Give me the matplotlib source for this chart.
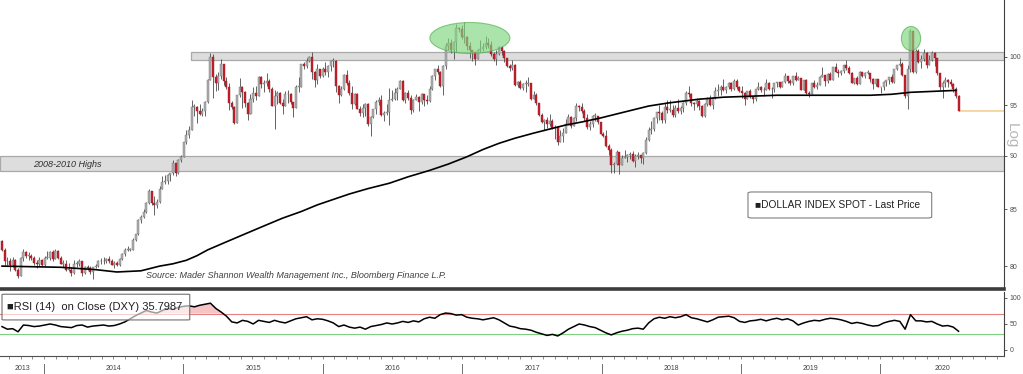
import numpy as np
import pandas as pd
import matplotlib
matplotlib.use("Agg")
import matplotlib.pyplot as plt
import matplotlib.transforms as mtransforms
from matplotlib.patches import Ellipse, FancyBboxPatch, Rectangle
from matplotlib.ticker import NullLocator, NullFormatter

plt.rcParams['font.family'] = ['Liberation Sans', 'DejaVu Sans']

# weekly DXY candles, first week ends 2013-09-13
FIRST_WEEK = "2013-09-13"
first_open = 82.2

close_2013 = [81.4, 80.4, 80.4, 80.1, 80.5, 79.7, 79.2, 80.7, 81.2, 80.9, 80.9, 80.7, 80.3, 80.2, 80.5, 80.1]
high_2013 = [82.3, 81.6, 80.8, 80.7, 80.8, 80.6, 79.8, 80.8, 81.5, 81.3, 81.2, 81.0, 80.9, 80.5, 80.8, 80.6]
low_2013 = [81.3, 80.1, 80.1, 79.6, 79.9, 79.6, 79.0, 79.2, 80.4, 80.7, 80.5, 80.5, 80.1, 79.8, 80.0, 80.0]

close_2014 = [80.7, 80.7, 81.2, 80.6, 81.3, 80.7, 80.2, 80.2, 79.7, 79.7, 79.4, 80.2, 80.2, 80.4, 79.4, 79.9, 79.8, 79.5,
              79.9, 80.0, 80.4, 80.4, 80.4, 80.6, 80.4, 80.1, 80.3, 80.1, 80.6, 81.0, 81.4, 81.4, 81.4, 82.3, 82.8, 84.0,
              84.3, 84.8, 85.6, 86.7, 85.6, 85.4, 85.7, 86.9, 87.5, 87.6, 88.2, 88.4, 89.3, 88.4, 89.6, 89.9]
high_2014 = [80.9, 81.3, 81.3, 81.4, 81.5, 81.4, 80.9, 80.5, 80.5, 80.3, 79.9, 80.5, 80.4, 80.6, 80.4, 80.0, 80.1, 80.0,
             79.9, 80.2, 80.5, 80.7, 80.8, 80.7, 80.9, 80.6, 80.4, 80.4, 80.7, 81.1, 81.6, 81.7, 81.6, 82.4, 82.8, 84.1,
             84.5, 85.0, 85.7, 86.9, 86.4, 86.2, 85.9, 87.1, 88.1, 88.2, 88.3, 88.4, 89.6, 89.3, 89.7, 90.1]
low_2014 = [80.0, 80.6, 80.5, 80.4, 80.6, 80.6, 80.2, 79.9, 79.6, 79.6, 79.2, 79.3, 79.9, 80.0, 79.2, 79.3, 79.7, 79.3,
            78.9, 79.8, 79.9, 80.2, 80.2, 80.3, 80.3, 80.1, 79.8, 80.0, 80.0, 80.5, 80.9, 81.3, 81.3, 81.4, 82.2, 82.7,
            83.8, 84.2, 84.7, 85.5, 85.4, 84.5, 85.1, 85.6, 86.9, 87.3, 87.3, 87.6, 88.2, 88.1, 88.3, 89.4]

close_2015 = [91.3, 92.0, 92.5, 94.8, 94.8, 94.4, 94.1, 94.4, 95.3, 97.6, 100.0, 97.9, 97.3, 98.0, 99.3, 97.5, 96.9, 95.2,
              94.8, 93.2, 96.0, 96.9, 96.3, 95.2, 94.1, 95.6, 96.2, 95.9, 97.9, 97.2, 97.3, 97.5, 96.6, 94.9, 95.9, 96.2,
              95.2, 94.9, 96.1, 96.1, 95.3, 94.7, 96.9, 96.9, 99.3, 99.0, 99.6, 100.0, 98.4, 97.6, 98.7, 98.0]
high_2015 = [91.3, 92.5, 92.9, 95.5, 95.1, 94.9, 95.1, 94.7, 95.4, 97.7, 100.4, 100.3, 98.2, 98.4, 99.8, 99.3, 97.9, 97.3,
             95.4, 94.9, 96.0, 97.8, 97.0, 96.4, 95.3, 96.1, 96.8, 97.0, 98.0, 98.0, 97.6, 98.3, 97.7, 96.8, 96.5, 96.4,
             96.3, 95.6, 96.4, 96.5, 96.2, 95.1, 97.1, 97.9, 99.3, 99.5, 99.9, 100.1, 100.5, 98.5, 99.3, 98.7]
low_2015 = [89.9, 91.1, 91.7, 92.6, 93.9, 93.2, 94.0, 93.9, 93.9, 95.2, 97.6, 95.7, 96.4, 96.5, 97.7, 97.1, 96.6, 94.5,
            94.6, 93.1, 93.2, 95.8, 94.7, 94.8, 93.5, 94.1, 95.3, 95.5, 95.9, 96.7, 96.3, 97.0, 96.3, 94.9, 92.6, 95.1,
            95.1, 94.1, 95.0, 95.2, 95.1, 93.8, 94.7, 96.3, 96.9, 98.7, 98.8, 99.5, 97.7, 96.9, 97.2, 97.8]

close_2016 = [98.7, 98.4, 99.0, 99.6, 99.6, 97.0, 96.0, 96.6, 98.1, 97.3, 96.2, 95.1, 96.1, 94.6, 94.2, 94.7, 95.1, 93.1,
              93.8, 94.6, 95.3, 95.5, 94.0, 94.2, 94.3, 95.5, 95.6, 96.2, 96.6, 97.5, 95.5, 96.2, 95.7, 94.5, 95.5, 95.8,
              95.3, 96.1, 95.5, 95.4, 96.6, 98.0, 98.7, 98.4, 97.0, 99.0, 101.2, 101.5, 100.8, 101.6, 103.1, 103.0, 102.2]
high_2016 = [98.9, 99.5, 99.2, 99.6, 99.9, 99.7, 97.1, 97.0, 98.2, 98.6, 97.6, 97.0, 96.2, 96.2, 94.9, 95.1, 95.2, 95.2,
             93.9, 94.6, 95.5, 95.8, 96.0, 94.4, 95.1, 96.7, 96.5, 96.7, 96.8, 97.6, 97.6, 96.3, 96.5, 96.0, 95.6, 96.1,
             95.9, 96.2, 96.1, 96.0, 97.0, 98.1, 98.7, 99.1, 98.5, 99.1, 101.5, 102.0, 101.9, 101.7, 103.6, 103.3, 103.5]
low_2016 = [97.9, 98.1, 97.9, 98.5, 98.9, 96.3, 95.2, 95.9, 96.5, 97.1, 96.0, 94.6, 95.0, 94.6, 93.9, 93.8, 93.9, 92.9,
            91.9, 93.7, 94.1, 95.0, 93.9, 93.4, 94.0, 93.0, 95.4, 95.5, 95.5, 96.6, 95.4, 95.2, 95.5, 94.1, 94.3, 95.5,
            94.4, 95.1, 94.9, 95.1, 95.3, 96.5, 97.6, 98.2, 96.9, 96.0, 98.7, 100.8, 100.4, 99.8, 100.5, 102.7, 101.9]

close_2017 = [102.2, 101.2, 100.7, 100.5, 99.8, 100.8, 100.9, 101.1, 101.5, 101.3, 100.3, 99.8, 100.3, 101.1, 100.6, 99.9,
              99.0, 98.8, 99.2, 97.1, 97.4, 96.7, 97.2, 97.2, 97.3, 95.6, 96.0, 95.2, 94.0, 93.3, 93.5, 93.1, 93.4, 92.7,
              92.8, 91.3, 91.9, 92.2, 93.1, 93.8, 92.9, 93.7, 94.9, 94.8, 94.4, 93.7, 92.8, 93.1, 93.9, 93.9, 93.3, 92.1]
high_2017 = [103.8, 102.3, 101.6, 100.8, 100.5, 100.9, 101.8, 101.5, 102.3, 102.0, 101.7, 100.5, 100.8, 101.2, 101.2,
             100.7, 99.9, 99.3, 99.7, 99.3, 97.5, 97.6, 97.3, 97.6, 97.9, 97.3, 96.4, 96.2, 95.2, 94.2, 93.6, 93.8, 94.1,
             93.6, 93.0, 92.9, 92.5, 92.7, 93.6, 94.1, 93.9, 93.8, 95.2, 95.0, 95.2, 94.6, 94.1, 93.4, 94.0, 94.2, 93.9, 93.3]
low_2017 = [101.5, 100.7, 99.9, 99.6, 99.2, 99.8, 100.5, 100.6, 100.9, 101.0, 100.1, 99.6, 99.1, 100.2, 100.2, 99.5,
            98.9, 98.5, 98.6, 97.0, 96.8, 96.6, 96.5, 96.3, 97.0, 95.5, 95.6, 95.0, 93.9, 93.2, 92.5, 92.7, 92.9, 92.6,
            91.6, 91.0, 91.3, 91.3, 92.4, 93.0, 92.7, 92.9, 93.4, 94.4, 94.2, 93.4, 92.6, 92.5, 92.8, 93.4, 93.1, 92.1]

close_2018 = [91.9, 90.9, 90.6, 89.1, 89.2, 90.4, 89.1, 89.8, 89.9, 90.1, 90.2, 89.5, 90.0, 90.1, 89.8, 90.3, 91.5, 92.5,
              92.6, 93.7, 94.3, 94.2, 93.5, 94.8, 94.5, 94.5, 94.0, 94.7, 94.4, 94.7, 95.2, 96.2, 96.1, 95.2, 95.1, 95.4,
              94.9, 93.9, 95.1, 95.6, 95.0, 95.7, 96.4, 96.5, 96.9, 96.5, 96.9, 97.3, 96.6, 97.5, 96.9, 96.4]
high_2018 = [92.3, 92.5, 91.1, 90.7, 89.4, 90.6, 90.4, 90.1, 90.6, 90.2, 90.4, 90.5, 90.2, 90.4, 90.1, 90.4, 91.8, 92.8,
             93.4, 93.8, 94.3, 95.0, 94.4, 95.2, 95.5, 95.5, 95.0, 95.0, 95.6, 94.9, 95.3, 96.4, 97.0, 96.2, 95.3, 95.7,
             95.5, 95.0, 95.2, 95.8, 96.0, 95.8, 96.8, 97.2, 97.1, 97.7, 97.0, 97.4, 97.4, 97.7, 97.7, 97.0]
low_2018 = [91.8, 90.8, 90.1, 88.4, 88.4, 89.1, 88.3, 89.1, 89.8, 89.4, 89.7, 89.4, 88.9, 89.7, 89.3, 89.2, 90.2, 91.4,
            92.1, 92.4, 93.2, 93.5, 93.2, 93.2, 94.2, 94.3, 93.8, 93.8, 94.2, 94.1, 94.3, 95.0, 95.8, 94.9, 94.5, 94.8,
            94.5, 93.8, 93.8, 94.9, 94.9, 94.6, 95.6, 95.9, 96.0, 96.4, 96.2, 96.6, 96.4, 96.5, 96.6, 96.3]

close_2019 = [96.2, 95.6, 96.4, 95.8, 95.6, 96.6, 96.9, 96.5, 96.5, 97.3, 96.6, 96.6, 97.3, 97.4, 96.9, 97.4, 98.0, 97.5,
              97.3, 98.0, 97.6, 97.8, 96.5, 97.6, 96.2, 96.1, 97.3, 96.8, 97.1, 97.9, 98.1, 97.5, 98.2, 97.6, 98.9, 98.4,
              98.3, 98.5, 99.1, 98.8, 98.3, 97.3, 97.8, 97.2, 98.4, 98.0, 98.3, 98.3, 97.7, 97.2, 97.7, 96.9]
high_2019 = [97.0, 96.3, 96.4, 96.6, 95.9, 96.6, 97.4, 97.0, 96.9, 97.7, 97.4, 96.8, 97.3, 97.4, 97.4, 97.5, 98.3, 98.0,
             97.7, 98.0, 98.4, 98.0, 97.8, 97.6, 97.7, 96.4, 97.3, 97.6, 97.4, 98.0, 98.9, 98.1, 98.3, 98.4, 98.9, 99.4,
             98.7, 98.6, 99.2, 99.7, 99.0, 98.4, 97.8, 98.0, 98.5, 98.4, 98.4, 98.6, 98.3, 97.8, 97.7, 97.7]
low_2019 = [95.7, 95.0, 95.6, 95.7, 95.2, 95.4, 96.5, 96.3, 95.9, 96.5, 96.5, 95.7, 96.3, 96.8, 96.7, 96.8, 97.3, 97.3,
            97.1, 97.1, 97.5, 97.6, 96.5, 96.5, 96.1, 95.8, 96.1, 96.7, 96.6, 97.1, 97.9, 97.0, 97.3, 97.6, 97.7, 98.4,
            97.9, 98.1, 98.3, 98.6, 98.2, 97.3, 97.2, 97.1, 97.2, 97.9, 97.8, 98.2, 97.4, 96.6, 97.0, 96.8]

close_2020 = [96.8, 97.4, 97.6, 97.9, 97.4, 98.7, 99.1, 99.3, 98.1, 95.9, 98.7, 102.8, 98.4, 100.6, 99.5, 99.8, 100.4,
              99.1, 99.7, 100.4, 99.9, 98.3, 96.9, 97.3, 97.6, 97.4, 97.2, 96.6, 95.9, 94.4]
high_2020 = [96.9, 97.5, 97.6, 97.9, 98.2, 98.7, 99.1, 99.9, 99.5, 98.1, 99.1, 103.0, 102.8, 100.9, 100.9, 100.2, 100.9,
             100.5, 100.2, 100.6, 100.5, 99.9, 98.3, 97.5, 97.9, 97.7, 97.7, 97.3, 96.9, 96.0]
low_2020 = [96.2, 96.5, 97.0, 97.2, 97.3, 97.3, 98.6, 99.0, 98.0, 95.7, 94.6, 98.4, 98.3, 98.3, 99.4, 98.8, 99.6, 98.8,
            99.1, 99.6, 99.0, 98.1, 96.5, 95.7, 96.9, 96.8, 97.0, 96.3, 95.7, 94.4]

# 200 week moving average (week number, value)
ma_week = [0, 22, 35, 43, 52, 59, 64, 69, 73, 77, 82, 86, 92, 99, 105, 112, 118, 124, 130, 137, 145, 152, 160, 167, 174,
           180, 186, 192, 199, 205, 211, 217, 224, 230, 236, 242, 249, 255, 261, 270, 280, 290, 299, 308, 317, 325,
           333, 340, 357]
ma_value = [80.0, 79.9, 79.7, 79.5, 79.6, 80.0, 80.2, 80.5, 80.9, 81.4, 81.9, 82.3, 82.9, 83.6, 84.2, 84.8, 85.4, 85.9,
            86.4, 86.9, 87.4, 88.0, 88.6, 89.2, 89.9, 90.6, 91.2, 91.7, 92.2, 92.6, 93.0, 93.3, 93.7, 94.1, 94.5, 94.9,
            95.2, 95.4, 95.6, 95.8, 95.9, 96.0, 96.0, 96.0, 96.0, 96.0, 96.1, 96.3, 96.5]

# RSI(14), read every second week
rsi_vals = [45, 40, 41, 35, 48, 47, 45, 46, 48, 50,
            48, 45, 44, 43, 47, 48, 44, 46, 47, 48,
            46, 47, 50, 54, 60, 66, 71, 76, 73, 71,
            76, 80, 78, 82, 84, 85, 83, 86, 88, 90,
            80, 73, 65, 54, 52, 57, 55, 50, 57, 55,
            53, 57, 54, 52, 56, 60, 62, 64, 58, 60,
            59, 56, 52, 45, 48, 44, 42, 44, 40, 45,
            47, 49, 52, 50, 52, 55, 53, 56, 54, 60,
            63, 61, 68, 71, 70, 67, 68, 63, 61, 60,
            58, 60, 62, 58, 52, 46, 44, 41, 40, 38,
            34, 31, 28, 30, 27, 33, 40, 45, 50, 48,
            45, 43, 38, 33, 29, 33, 36, 38, 41, 42,
            40, 52, 60, 63, 61, 64, 62, 64, 68, 62,
            60, 57, 54, 58, 63, 64, 65, 62, 55, 53,
            56, 57, 59, 56, 59, 61, 58, 60, 56, 48,
            52, 55, 57, 56, 59, 61, 60, 58, 55, 51,
            53, 51, 48, 46, 47, 52, 55, 57, 55, 40,
            68, 56, 56, 54, 55, 50, 46, 47, 44, 36]

years = [2013, 2014, 2015, 2016, 2017, 2018, 2019, 2020]
price_ticks = [80, 85, 90, 95, 100]
rsi_ticks = [0, 50, 100]

closes = np.array(close_2013 + close_2014 + close_2015 + close_2016 + close_2017 + close_2018 + close_2019 + close_2020)
highs = np.array(high_2013 + high_2014 + high_2015 + high_2016 + high_2017 + high_2018 + high_2019 + high_2020)
lows = np.array(low_2013 + low_2014 + low_2015 + low_2016 + low_2017 + low_2018 + low_2019 + low_2020)
opens = np.concatenate([[first_open], closes[:-1]])
n = len(closes)
weeks = np.arange(n)
rsi_vals = np.array(rsi_vals, dtype=float)
rsi_week = np.arange(len(rsi_vals)) * 2

t0 = pd.Timestamp(FIRST_WEEK)
def week_of(date):
    return (pd.Timestamp(date) - t0).days / 7.0

XMIN, XMAX = -0.75, 375.0

fig = plt.figure(figsize=(10.23, 3.74), dpi=100)
ax = fig.add_axes([0, 1 - 289 / 374, 1004 / 1023, 289 / 374])
ax2 = fig.add_axes([0, 1 - 355.5 / 374, 1004 / 1023, 63.5 / 374])

# ---- main price panel ----
ax.set_yscale('log')
ax.set_xlim(XMIN, XMAX)
ax.set_ylim(78.07, 106.27)

# bands
band_start = week_of("2015-01-20")
ax.add_patch(Rectangle((band_start, 99.7), XMAX - band_start, 0.8, facecolor='#dddddd',
                       edgecolor='#a9a9a9', lw=0.9, zorder=1))
ax.add_patch(Rectangle((XMIN, 88.5), XMAX - XMIN, 1.5, facecolor='#dddddd',
                       edgecolor='#a9a9a9', lw=0.9, zorder=1))

up = closes >= opens
ax.vlines(weeks, np.minimum(lows, np.minimum(opens, closes)), np.maximum(highs, np.maximum(opens, closes)),
          color='#4a4a4a', lw=0.6, zorder=2)
body_lo = np.minimum(opens, closes)
body_h = np.maximum(np.abs(closes - opens), 0.06)
ax.bar(weeks[up], body_h[up], bottom=body_lo[up], width=0.75, color='#b0b0b0', edgecolor='#6e6e6e',
       lw=0.3, zorder=3)
ax.bar(weeks[~up], body_h[~up], bottom=body_lo[~up], width=0.75, color='#c8202c', edgecolor='#8c1a22',
       lw=0.3, zorder=3)

ax.plot(ma_week, ma_value, color='black', lw=1.2, zorder=4)
ax.hlines(closes[-1], weeks[-1] + 0.4, XMAX, color='#f6cf95', lw=1.2, zorder=2)

# highlight ellipses
ax.add_patch(Ellipse((0.468, 0.8685), 0.0797, 0.1073, transform=ax.transAxes, facecolor='#7fd67f',
                     edgecolor='#4fae4f', lw=0.8, alpha=0.65, zorder=5))
ax.add_patch(Ellipse((0.9074, 0.8668), 0.0192, 0.083, transform=ax.transAxes, facecolor='#7fd67f',
                     edgecolor='#4fae4f', lw=0.8, alpha=0.65, zorder=5))

ax.text(0.033, 0.4325, "2008-2010 Highs", transform=ax.transAxes, fontsize=6.5, style='italic',
        color='#303030', va='center', zorder=6)
ax.text(0.1454, 0.045, "Source: Mader Shannon Wealth Management Inc., Bloomberg Finance L.P.",
        transform=ax.transAxes, fontsize=6.5, style='italic', color='#404040', va='center', zorder=6)

ax.add_patch(FancyBboxPatch((0.745, 0.2457), 0.183, 0.09, boxstyle='round,pad=0,rounding_size=0.004',
                            transform=ax.transAxes, facecolor='white', edgecolor='#808080', lw=0.8, zorder=6))
ax.text(0.7515, 0.2907, "\u25a0DOLLAR INDEX SPOT - Last Price", transform=ax.transAxes, fontsize=7.3,
        color='#202020', va='center', zorder=7)

ax.yaxis.tick_right()
ax.yaxis.set_minor_locator(NullLocator())
ax.yaxis.set_minor_formatter(NullFormatter())
ax.set_yticks(price_ticks)
ax.set_yticklabels([str(v) for v in price_ticks])
ax.tick_params(axis='y', length=2.5, width=0.6, color='#404040', labelsize=5, labelcolor='#505050', pad=1.5)
ax.set_xticks([])
for s in ['left', 'top']:
    ax.spines[s].set_visible(False)
ax.spines['right'].set_color('#404040')
ax.spines['right'].set_linewidth(0.8)
ax.spines['bottom'].set_color('#3c3c3c')
ax.spines['bottom'].set_linewidth(2.6)

fig.text(1012 / 1023, 1 - 136 / 374, "Log", rotation=270, fontsize=11, color='#b8b8b8',
         ha='center', va='center')

# ---- RSI panel ----
ax2.set_xlim(XMIN, XMAX)
ax2.set_ylim(-10.6, 111.5)
ax2.axhline(70, color='#e58080', lw=0.8, zorder=1)
ax2.axhline(30, color='#7fd17f', lw=0.8, zorder=1)
ax2.fill_between(rsi_week, rsi_vals, 70, where=rsi_vals > 70, interpolate=True, color='#f6c4c4', lw=0, zorder=1)
ax2.plot(rsi_week, rsi_vals, color='black', lw=1.1, zorder=2)

ax2.add_patch(FancyBboxPatch((0.002, 0.56), 0.187, 0.405, boxstyle='round,pad=0,rounding_size=0.004',
                             transform=ax2.transAxes, facecolor=(1, 1, 1, 0.62), edgecolor='#707070',
                             lw=0.8, zorder=3))
ax2.text(0.007, 0.76, "\u25a0RSI (14)  on Close (DXY) 35.7987", transform=ax2.transAxes, fontsize=8,
         color='#202020', va='center', zorder=4)

ax2.yaxis.tick_right()
ax2.set_yticks(rsi_ticks)
ax2.set_yticklabels([str(v) for v in rsi_ticks])
ax2.tick_params(axis='y', length=2.5, width=0.6, color='#404040', labelsize=5, labelcolor='#505050', pad=1.5)
for s in ['left', 'top']:
    ax2.spines[s].set_visible(False)
ax2.spines['right'].set_color('#404040')
ax2.spines['right'].set_linewidth(0.8)
ax2.spines['bottom'].set_color('#505050')
ax2.spines['bottom'].set_linewidth(0.8)

months = pd.date_range("2013-10-01", "2020-11-01", freq='MS')
ax2.set_xticks([week_of(m) for m in months])
ax2.set_xticklabels([])
ax2.tick_params(axis='x', length=2, width=0.5, color='#606060')

trans = mtransforms.blended_transform_factory(ax2.transData, ax2.transAxes)
for y in years:
    start = max(week_of(f"{y}-01-01"), XMIN)
    end = min(week_of(f"{y + 1}-01-01"), XMAX)
    ax2.text((start + end) / 2, -0.21, str(y), transform=trans, fontsize=5, color='#404040',
             ha='center', va='center', clip_on=False)
    if y > years[0]:
        ax2.plot([start, start], [-0.14, -0.3], transform=trans, color='#707070', lw=0.7, clip_on=False)

fig.savefig("out.png", dpi=100)
